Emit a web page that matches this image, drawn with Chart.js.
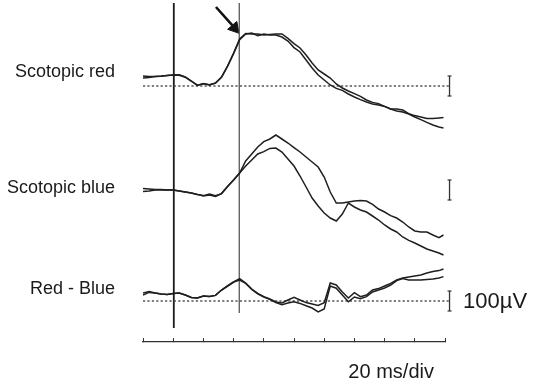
<!DOCTYPE html>
<html>
<head>
<meta charset="utf-8">
<script src="https://cdn.jsdelivr.net/npm/chart.js@4.4.1/dist/chart.umd.min.js"></script>
<style>
html,body{margin:0;padding:0;background:#ffffff;}
canvas{display:block;}
</style>
</head>
<body>
<canvas id="c" width="535" height="383"></canvas>
<script>
// ---- data (time in ms, amplitudes in µV relative to each trace's baseline) ----
const times = [0,4,8,12,16,20,24,28,32,36,40,44,48,52,56,60,64,68,72,76,80,84,88,92,96,100,104,108,112,116,120,124,128,132,136,140,144,148,152,156,160,164,168,172,176,180,184,188,192,196,199];

const redA = [50,48,48,50,53,55,56,45,25,3, 12,5,15,45,100,165,235,262,260,260, 255,258,260,260,238,212,190,155,115,80, 60,40,10,-10,-25,-38,-52,-70,-82,-88, -102,-115,-125,-130,-140,-155,-168,-182,-195,-205, -210];
const redB = [40,42,47,49,52,55,54,44,24,4, 11,6,14,44,98,162,232,260,265,252, 260,255,255,245,225,192,170,130,90,55, 30,5,-12,-22,-40,-55,-68,-80,-90,-95, -102,-115,-115,-120,-138,-148,-155,-162,-162,-160, -158];

const blueA = [8,5,2,3,0,0,-5,-10,-15,-22, -28,-20,-28,-18,18,50,85,145,180,215, 242,255,275,255,235,212,190,165,140,115, 65,-10,-65,-65,-60,-55,-52,-55,-72,-95, -110,-128,-140,-160,-185,-205,-210,-210,-225,-238, -225];
const blueB = [-8,-5,0,1,0,0,-5,-10,-15,-22, -30,-25,-32,-18,18,50,85,120,150,180, 192,208,210,190,155,120,70,15,-40,-80, -115,-140,-155,-120,-65,-85,-100,-110,-130,-150, -175,-195,-210,-235,-252,-265,-280,-295,-305,-315, -325];

const diffA = [40,47,40,35,32,38,40,30,18,15, 25,22,28,55,75,95,112,90,60,38, 22,10,-5,-10,5,18,5,-8,-15,-22, -8,90,80,45,15,42,22,30,55,62, 75,88,105,115,120,125,130,140,148,152, 160];
const diffB = [30,43,40,35,32,38,40,30,18,15, 25,22,28,55,75,95,105,88,58,36, 20,8,-8,-18,-10,-4,-12,-24,-35,-55, -40,75,64,30,-4,20,12,22,45,55, 65,80,102,112,105,105,105,108,110,115, 122];

const traceLabels = ['Scotopic red', 'Scotopic blue', 'Red - Blue'];
const traceLabelLevels = [1350, 772, 265];
const baselines = [1280, 760, 205];
const dottedBaselines = [1280, 205];

const stimulusTime = 20.4;
const markerTime = 63.8;
const scaleBarTime = 203;
const scaleBarSpan = 100;           // µV
const scaleBarLabel = '100\u00B5V';
const scaleBarLabelLevel = 200;
const timeStep = 20;
const timeMax = 200;
const timeUnitLabel = '20 ms/div';

// ---- helpers ----
const FONT = '"Liberation Sans", Arial, Helvetica, sans-serif';
const INK = '#1f1f1f';
function trace(base, vals) { return times.map((t, i) => ({x: t, y: base + vals[i]})); }
const traceStyle = {borderColor: INK, borderWidth: 1.5, pointRadius: 0, fill: false, tension: 0};

const datasets = [];
[[redA, redB], [blueA, blueB], [diffA, diffB]].forEach((pair, k) => {
  pair.forEach(vals => datasets.push(Object.assign({data: trace(baselines[k], vals)}, traceStyle)));
});
dottedBaselines.forEach(b => datasets.push({
  data: [{x: 0, y: b}, {x: scaleBarTime, y: b}],
  borderColor: '#555', borderWidth: 1.5, borderDash: [2.2, 2.2], pointRadius: 0, clip: false
}));
baselines.forEach(b => datasets.push({
  data: [{x: scaleBarTime, y: b - scaleBarSpan / 2}, {x: scaleBarTime, y: b + scaleBarSpan / 2}],
  borderColor: '#333', borderWidth: 1.3, pointStyle: 'line', pointRadius: 2,
  pointBorderColor: '#333', pointBorderWidth: 1.2, clip: false
}));
// stimulus line and latency marker
datasets.push({data: [{x: stimulusTime, y: 1695}, {x: stimulusTime, y: 70}],
  borderColor: '#1a1a1a', borderWidth: 1.8, pointRadius: 0});
datasets.push({data: [{x: markerTime, y: 1695}, {x: markerTime, y: 145}],
  borderColor: '#666', borderWidth: 1, pointRadius: 0});
// arrow
datasets.push({data: [{x: 48.3, y: 1675}, {x: 59.2, y: 1583}],
  borderColor: '#111', borderWidth: 2.6, pointRadius: 0});
datasets.push({data: [{x: 60.6, y: 1570}], showLine: false,
  pointStyle: 'triangle', pointRadius: 7, pointRotation: 139,
  pointBackgroundColor: '#111', pointBorderColor: '#111', pointBorderWidth: 1});

const captionPlugin = {
  id: 'caption',
  afterDraw(chart) {
    const ctx = chart.ctx, xs = chart.scales.x;
    ctx.save();
    ctx.font = '20px ' + FONT;
    ctx.fillStyle = '#1a1a1a';
    ctx.textAlign = 'left';
    ctx.textBaseline = 'alphabetic';
    ctx.fillText(timeUnitLabel, xs.getPixelForValue(136), xs.bottom - 5);
    ctx.restore();
  }
};

new Chart(document.getElementById('c'), {
  type: 'line',
  data: {datasets},
  plugins: [captionPlugin],
  options: {
    responsive: false,
    animation: false,
    devicePixelRatio: 1,
    layout: {autoPadding: false, padding: {top: 2, left: 0, right: 0, bottom: 0}},
    plugins: {legend: {display: false}, tooltip: {enabled: false}},
    scales: {
      x: {
        type: 'linear', position: 'bottom', min: 0, max: timeMax,
        ticks: {display: false, stepSize: timeStep},
        grid: {display: true, drawOnChartArea: false, drawTicks: true, tickLength: -4, color: '#333', lineWidth: 1},
        border: {display: true, color: '#333', width: 1.2},
        afterFit: s => { s.height = 41; s.paddingLeft = 0; s.paddingRight = 0; }
      },
      y: {
        type: 'linear', position: 'left', min: 0, max: 1700,
        afterBuildTicks: s => { s.ticks = traceLabelLevels.map(v => ({value: v})); },
        ticks: {autoSkip: false, padding: 28, crossAlign: 'near', color: '#1a1a1a',
                font: {family: FONT, size: 18},
                callback: (v, i) => traceLabels[i]},
        grid: {display: false, drawTicks: false},
        border: {display: false},
        afterFit: s => { s.width = 143; s.paddingTop = 0; s.paddingBottom = 0; }
      },
      y2: {
        type: 'linear', position: 'right', min: 0, max: 1700,
        afterBuildTicks: s => { s.ticks = [{value: scaleBarLabelLevel}]; },
        ticks: {autoSkip: false, padding: 18, crossAlign: 'near', color: '#1a1a1a',
                font: {family: FONT, size: 22},
                callback: () => scaleBarLabel},
        grid: {display: false, drawTicks: false},
        border: {display: false},
        afterFit: s => { s.width = 90; s.paddingTop = 0; s.paddingBottom = 0; }
      }
    }
  }
});
</script>
</body>
</html>
